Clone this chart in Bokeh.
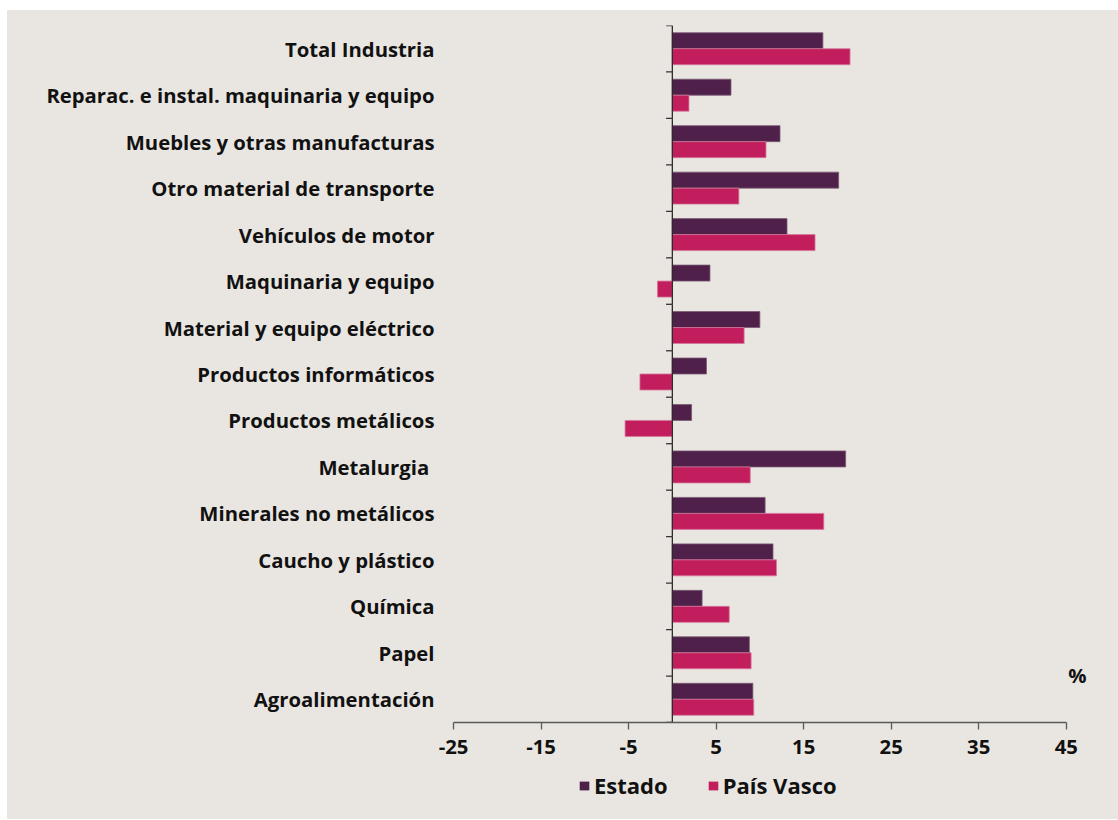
from bokeh.plotting import figure
from bokeh.models import (Range1d, FactorRange, FixedTicker, Legend, LegendItem,
                          Label, Spacer, ColumnDataSource)
from bokeh.transform import dodge
from bokeh.layouts import column, row
from bokeh.embed import file_html
from bokeh.resources import INLINE

# Industrial sectors, top to bottom
sectors = [
    "Total Industria",
    "Reparac. e instal. maquinaria y equipo",
    "Muebles y otras manufacturas",
    "Otro material de transporte",
    "Vehículos de motor",
    "Maquinaria y equipo",
    "Material y equipo eléctrico",
    "Productos informáticos",
    "Productos metálicos",
    "Metalurgia ",
    "Minerales no metálicos",
    "Caucho y plástico",
    "Química",
    "Papel",
    "Agroalimentación",
]

# Percentage change by sector
estado = [17.2, 6.7, 12.3, 19.0, 13.1, 4.3, 10.0, 3.9, 2.2, 19.8, 10.6, 11.5, 3.4, 8.8, 9.2]
pais_vasco = [20.3, 1.9, 10.7, 7.6, 16.3, -1.7, 8.2, -3.7, -5.4, 8.9, 17.3, 11.9, 6.5, 9.0, 9.3]

x_ticks = [-25, -15, -5, 5, 15, 25, 35, 45]
series_names = ["Estado", "País Vasco"]
unit_label = "%"

BG = "#E9E6E1"
C_ESTADO = "#4F2049"
C_ESTADO_EDGE = "#7A5A75"
C_PV = "#C21D5C"
C_PV_EDGE = "#D6779A"
INK = "#111111"
FONT = "Open Sans"
FSIZE = "20.3px"
WIDTH = 1111

src = ColumnDataSource(dict(sector=sectors, estado=estado, pv=pais_vasco,
                            zero=[0] * len(sectors)))

# ---- main bar chart -------------------------------------------------------
p = figure(width=WIDTH, height=760, output_backend="svg", toolbar_location=None,
           x_range=Range1d(x_ticks[0], 48),
           y_range=FactorRange(factors=list(reversed(sectors))),
           min_border_left=446, min_border_right=26,
           min_border_top=15, min_border_bottom=48)
p.background_fill_color = BG
p.border_fill_color = BG
p.outline_line_color = None
p.xgrid.grid_line_color = None
p.ygrid.grid_line_color = None

bar_h = 0.344
p.hbar(y=dodge("sector", bar_h / 2, range=p.y_range), left=0, right="estado",
       height=bar_h, source=src, fill_color=C_ESTADO,
       line_color=C_ESTADO_EDGE, line_width=0.8)
p.hbar(y=dodge("sector", -bar_h / 2, range=p.y_range), left=0, right="pv",
       height=bar_h, source=src, fill_color=C_PV,
       line_color=C_PV_EDGE, line_width=0.8)

# Zero line with tick marks at the category boundaries
p.segment(x0="zero", x1="zero", y0=dodge("sector", -0.5, range=p.y_range),
          y1=dodge("sector", 0.5, range=p.y_range), source=src,
          line_color="#2a2a2a", line_width=1.3)
tick_len = 0.72
p.segment(x0=-tick_len, x1=0, y0=dodge("sector", 0.5, range=p.y_range),
          y1=dodge("sector", 0.5, range=p.y_range), source=src,
          line_color="#333333", line_width=1.3)
p.segment(x0=[-tick_len], x1=[0], y0=[(sectors[-1], -0.5)], y1=[(sectors[-1], -0.5)],
          line_color="#333333", line_width=1.3)

# Axes
xa = p.xaxis[0]
xa.ticker = FixedTicker(ticks=x_ticks)
xa.bounds = (x_ticks[0], x_ticks[-1])
xa.major_label_overrides = {t: str(t) for t in x_ticks}
xa.axis_line_color = "#5a5a5a"
xa.axis_line_width = 1.5
xa.major_tick_line_color = "#5a5a5a"
xa.major_tick_line_width = 1.3
xa.major_tick_out = 7
xa.major_tick_in = 0
xa.minor_tick_line_color = None
xa.major_label_standoff = 10
xa.major_label_text_font = FONT
xa.major_label_text_font_style = "bold"
xa.major_label_text_font_size = FSIZE
xa.major_label_text_color = INK

ya = p.yaxis[0]
ya.axis_line_color = None
ya.major_tick_line_color = None
ya.major_tick_out = 0
ya.major_tick_in = 0
ya.major_label_standoff = 19
ya.major_label_text_font = FONT
ya.major_label_text_font_style = "bold"
ya.major_label_text_font_size = FSIZE
ya.major_label_text_color = INK

# Unit marker just right of the last x tick
p.add_layout(Label(x=x_ticks[-1], y=0, x_offset=2, y_offset=48, text=unit_label,
                   text_font=FONT, text_font_style="bold", text_font_size=FSIZE,
                   text_color=INK, text_baseline="middle", text_align="left"))

# ---- legend strip ---------------------------------------------------------
lg = figure(width=WIDTH, height=49, output_backend="svg", toolbar_location=None,
            x_range=Range1d(0, 1), y_range=Range1d(0, 1),
            x_axis_type=None, y_axis_type=None, min_border=0)
lg.background_fill_color = BG
lg.border_fill_color = BG
lg.outline_line_color = None
lg.xgrid.grid_line_color = None
lg.ygrid.grid_line_color = None

# legend keys (drawn off-range, only their swatches show in the legend)
key_src = ColumnDataSource(dict(y=[-2], right=[1]))
k_est = lg.hbar(y="y", left=0, right="right", height=0.5, source=key_src,
                fill_color=C_ESTADO, line_color=None)
k_pv = lg.hbar(y="y", left=0, right="right", height=0.5, source=key_src,
               fill_color=C_PV, line_color=None)

legend = Legend(items=[LegendItem(label=series_names[0], renderers=[k_est]),
                       LegendItem(label=series_names[1], renderers=[k_pv])],
                orientation="horizontal", location=(125, 19),
                glyph_width=12, glyph_height=11, label_standoff=4, spacing=39,
                padding=0, margin=0, border_line_color=None,
                background_fill_alpha=0,
                label_text_font=FONT, label_text_font_style="bold",
                label_text_font_size="22px", label_text_color=INK)
lg.add_layout(legend)

chart = column(p, lg)
chart.styles = {"background-color": BG}
layout = column(Spacer(height=10), row(Spacer(width=7), chart))
open("out.html", "w").write(file_html(layout, INLINE))
